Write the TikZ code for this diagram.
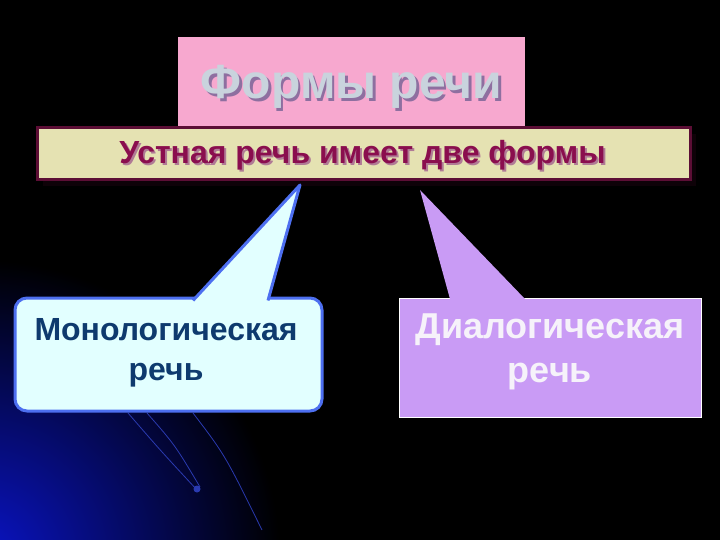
\documentclass[tikz,border=0pt]{standalone}
\usepackage{fontspec}
\setmainfont{Liberation Sans}
\definecolor{bgblue}{HTML}{0A14C8}
\definecolor{pinkbox}{HTML}{F7A8CF}
\definecolor{titletext}{HTML}{C9D3DD}
\definecolor{titleshadow}{HTML}{8E6FA0}
\definecolor{beige}{HTML}{E5E2B2}
\definecolor{beigeborder}{HTML}{5C0E35}
\definecolor{beigetext}{HTML}{8A0E4E}
\definecolor{beigeshadow}{HTML}{B07A95}
\definecolor{monofill}{HTML}{E2FFFF}
\definecolor{monoborder}{HTML}{4D6FF0}
\definecolor{monotext}{HTML}{0E3A6E}
\definecolor{diafill}{HTML}{C99BF5}
\definecolor{diatext}{HTML}{F6F2FA}
\definecolor{decoline}{HTML}{2A3AB0}
\newcommand{\shadowtext}[4]{\makebox[0pt][l]{\kern#2\raisebox{-#3}{\textcolor{#1}{#4}}}#4}
\tikzset{
  titlebox/.style={fill=pinkbox, minimum width=347pt, minimum height=91pt, inner sep=0pt},
  subbox/.style={fill=beige, draw=beigeborder, line width=3pt, minimum width=653pt, minimum height=52pt, inner sep=0pt},
  monobox/.style={fill=monofill, draw=monoborder, line width=3pt, rounded corners=12pt, minimum width=307pt, minimum height=113pt, inner sep=0pt},
  diabox/.style={fill=diafill, draw=white, line width=0.8pt, minimum width=302pt, minimum height=119pt, inner sep=0pt},
  txt/.style={inner sep=0pt, align=center, font=\bfseries},
}
\begin{document}
\begin{tikzpicture}[x=1pt,y=-1pt]
\useasboundingbox (0,0) rectangle (720,540);
\fill[black] (0,0) rectangle (720,540);
\begin{scope}
  \clip (0,0) rectangle (720,540);
  \shade[inner color=bgblue, outer color=black] (-20,560) circle (300pt);
  \draw[decoline, line width=0.8pt] (128,413) .. controls (160,450) .. (197,490);
  \draw[decoline, line width=0.8pt] (147,413) .. controls (175,445) .. (200,487);
  \draw[decoline, line width=0.8pt] (193,413) .. controls (225,455) .. (262,530);
  \fill[decoline] (197,489) circle (3.5pt);
\end{scope}
% title
\node[titlebox] (title) at (351.5,82.5) {};
\node[txt, font=\bfseries\fontsize{48}{54}\selectfont, text=titletext] (titletxt) at ([yshift=-6pt]title.center) {\shadowtext{titleshadow}{2.5pt}{2.5pt}{Формы речи}};
% subtitle
\fill[black!85!beigeborder] (43,134) rectangle (696,186);
\node[subbox] (sub) at (363.5,154) {};
\node[txt, font=\bfseries\fontsize{32}{36}\selectfont, text=beigetext] (subtxt) at ([xshift=-1pt,yshift=-2pt]sub.center) {\shadowtext{beigeshadow}{2pt}{2pt}{Устная речь имеет две формы}};
% left callout
\node[monobox] (mono) at (168.5,354.5) {};
\coordinate (mtip) at (300,185);
\fill[monofill] (193,300.5) -- (mtip) -- (268,300.5) -- cycle;
\draw[monoborder, line width=3pt, line join=round] (193,300.5) -- (mtip) -- (268,300.5);
\node[txt, text=monotext, font=\bfseries\fontsize{32}{40}\selectfont] (monotxt) at (166,353) {Монологическая\\речь};
% right callout
\node[diabox] (dia) at (550,357.5) {};
\coordinate (dtip) at (420,190);
\fill[diafill] (450,299) -- (dtip) -- (525,299) -- cycle;
\node[txt, text=diatext, font=\bfseries\fontsize{36}{44}\selectfont] (diatxt) at (550,352) {Диалогическая\\речь};
\end{tikzpicture}
\end{document}
